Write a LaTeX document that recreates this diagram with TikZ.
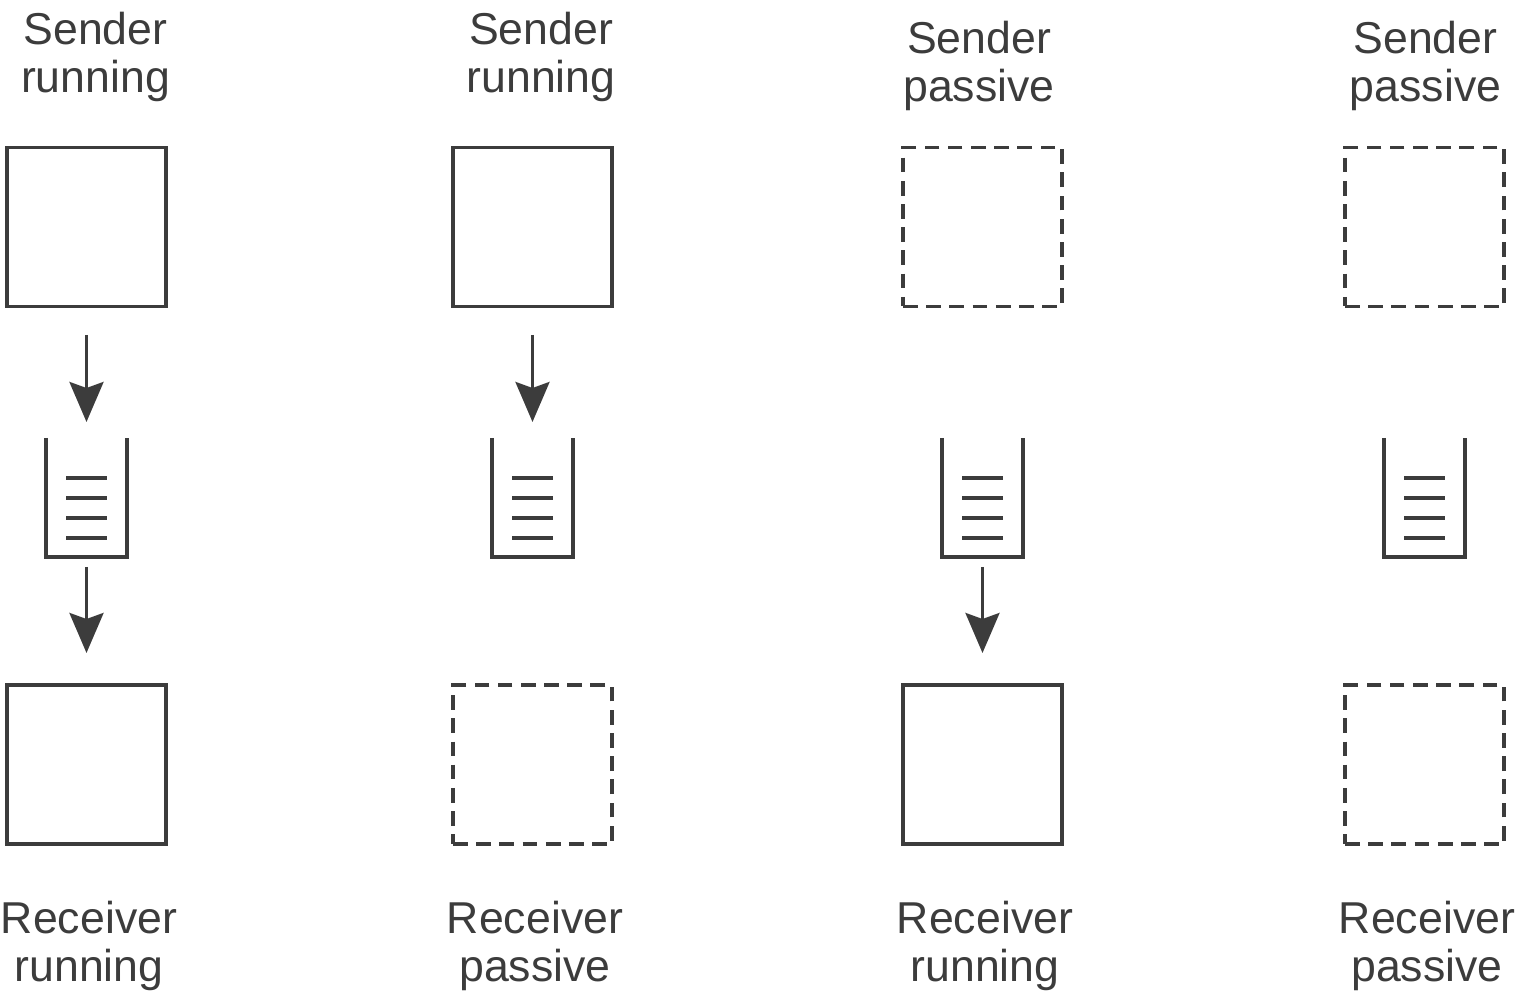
\documentclass[tikz,border=0pt]{standalone}
\usepackage{fontspec}
\setmainfont{Liberation Sans}
\usetikzlibrary{arrows.meta}
\definecolor{ink}{HTML}{3C3C3C}

\begin{document}
\begin{tikzpicture}[>={Stealth[length=4mm,width=3.4mm,inset=0.6mm]},
        every node/.style={inner sep=0pt,outer sep=0pt},
        proc/.style={draw=ink,line width=0.9pt,minimum size=1.59cm},
        idle/.style={proc,dash pattern=on 4.2pt off 2.4pt},
        queue/.style={minimum width=0.81cm,minimum height=1.19cm},
        wall/.style={draw=ink,line width=0.9pt},
        lbl/.style={align=center,text=ink,font=\fontsize{12.7}{13.7}\selectfont},
        flow/.style={->,draw=ink,line width=0.9pt}]
    \useasboundingbox (0,0) rectangle (15.18,-10);
    % one column per sender/receiver pair
    \foreach \i/\x/\dx/\ty/\stxt/\sst/\rtxt/\rst in
            {1/0.865/0.09/-0.57/running/proc/running/proc,
             2/5.325/0.085/-0.57/running/proc/passive/idle,
             3/9.825/-0.035/-0.66/passive/idle/running/proc,
             4/14.245/0.01/-0.66/passive/idle/passive/idle}
    {
        \node[lbl] (st\i) at (\x+\dx,\ty) {Sender\\\stxt};
        \node[\sst] (s\i) at (\x,-2.27) {};
        \node[queue] (q\i) at (\x,-4.975) {};
        \node[\rst] (r\i) at (\x,-7.645) {};
        \node[lbl] (rt\i) at (\x+0.025,-9.46) {Receiver\\\rtxt};
        \draw[wall] (q\i.north west) -- (q\i.south west)
            -- (q\i.south east) -- (q\i.north east);
        \foreach \h in {0.19,0.39,0.59,0.79}
            \draw[wall] ([shift={(-0.205,\h)}]q\i.south) -- ++(0.41,0);
    }
    % message flow
    \draw[flow,shorten <=0.285cm,shorten >=0.16cm] (s1) -- (q1);
    \draw[flow,shorten <=0.1cm,shorten >=0.32cm] (q1) -- (r1);
    \draw[flow,shorten <=0.285cm,shorten >=0.16cm] (s2) -- (q2);
    \draw[flow,shorten <=0.1cm,shorten >=0.32cm] (q3) -- (r3);
\end{tikzpicture}
\end{document}
